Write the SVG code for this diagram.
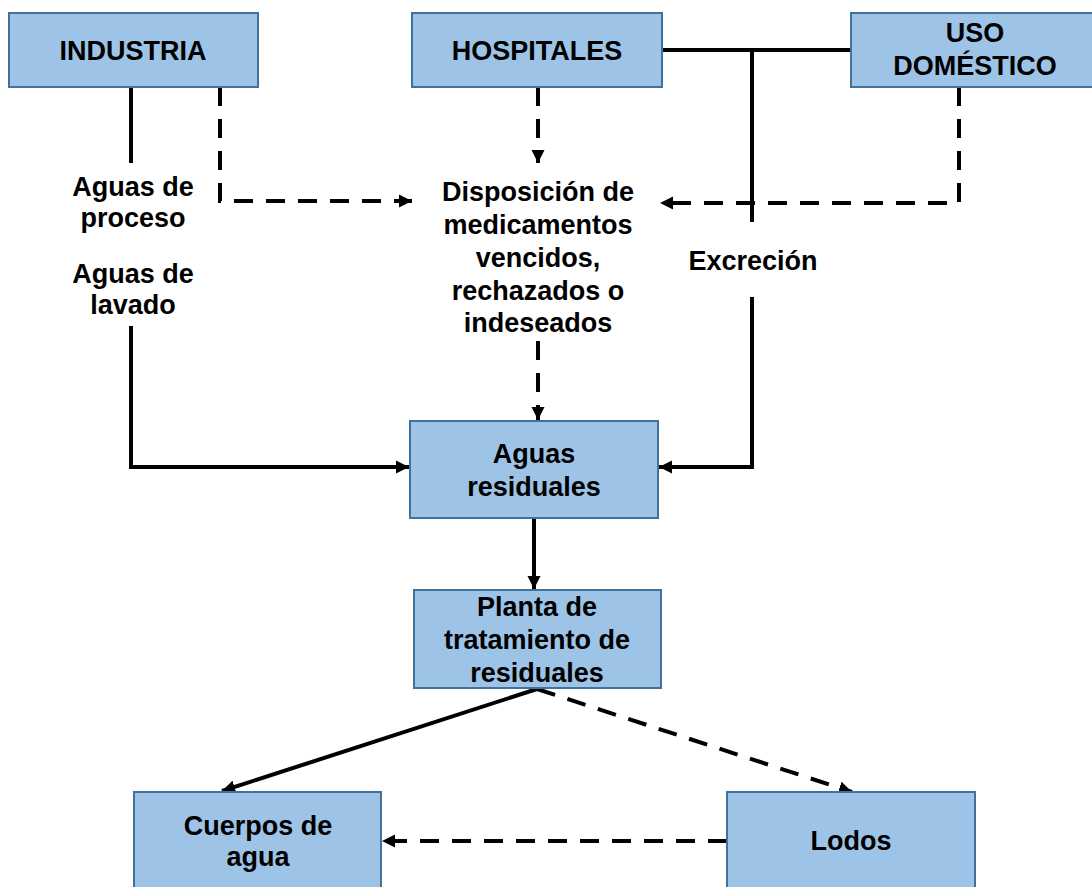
<svg xmlns="http://www.w3.org/2000/svg" width="1092" height="887" viewBox="0 0 1092 887">
<style>
.box{fill:#9DC3E6;stroke:#41719C;stroke-width:2}
.t{font-family:"Liberation Sans",Arial,sans-serif;font-weight:bold;font-size:27px;fill:#000;text-anchor:middle}
.s{fill:none;stroke:#000;stroke-width:4}
.d{fill:none;stroke:#000;stroke-width:4;stroke-dasharray:19 13}
</style>
<defs>
<marker id="ah" viewBox="0 0 10 10" refX="10" refY="5" markerWidth="3.3" markerHeight="3.3" orient="auto" markerUnits="strokeWidth">
<path d="M0,0 L10,5 L0,10 Z" fill="#000"/>
</marker>
</defs>
<rect width="1092" height="887" fill="#fff"/>
<g id="connectors">
<path class="s" d="M662,50 H851"/>
<path class="s" d="M752,50 V222"/>
<path class="s" d="M752,297 V467 H659" marker-end="url(#ah)"/>
<path class="s" d="M131,87 V163"/>
<path class="s" d="M131,326 V467 H409" marker-end="url(#ah)"/>
<path class="d" d="M220,87 V201 H412" marker-end="url(#ah)"/>
<path class="d" d="M538,87 V163" marker-end="url(#ah)"/>
<path class="d" d="M959,87 V203 H660" marker-end="url(#ah)"/>
<path class="d" d="M538,341 V420" marker-end="url(#ah)"/>
<path class="s" d="M534,518 V589" marker-end="url(#ah)"/>
<path class="s" d="M537,689 L222,791" marker-end="url(#ah)"/>
<path class="d" d="M537,689 L852,792" marker-end="url(#ah)"/>
<path class="d" d="M727,841 H382" marker-end="url(#ah)"/>
</g>
<g id="industria">
<rect class="box" x="9" y="13" width="249" height="74"/>
<text class="t" x="133" y="60">INDUSTRIA</text>
</g>
<g id="hospitales">
<rect class="box" x="412" y="13" width="250" height="74"/>
<text class="t" x="537" y="60">HOSPITALES</text>
</g>
<g id="uso-domestico">
<rect class="box" x="851" y="13" width="245" height="74"/>
<text class="t" x="975" y="42">USO</text>
<text class="t" x="975" y="75">DOMÉSTICO</text>
</g>
<g id="label-industria">
<text class="t" x="133" y="196">Aguas de</text>
<text class="t" x="133" y="227">proceso</text>
<text class="t" x="133" y="283">Aguas de</text>
<text class="t" x="133" y="314">lavado</text>
</g>
<g id="disposicion">
<text class="t" x="538" y="201">Disposición de</text>
<text class="t" x="538" y="234">medicamentos</text>
<text class="t" x="538" y="267">vencidos,</text>
<text class="t" x="538" y="300">rechazados o</text>
<text class="t" x="538" y="332">indeseados</text>
</g>
<g id="excrecion">
<text class="t" x="753" y="270">Excreción</text>
</g>
<g id="aguas-residuales">
<rect class="box" x="410" y="421" width="248" height="97"/>
<text class="t" x="534" y="463">Aguas</text>
<text class="t" x="534" y="496">residuales</text>
</g>
<g id="planta">
<rect class="box" x="414" y="590" width="247" height="98"/>
<text class="t" x="537" y="616">Planta de</text>
<text class="t" x="537" y="649">tratamiento de</text>
<text class="t" x="537" y="682">residuales</text>
</g>
<g id="cuerpos">
<rect class="box" x="134" y="792" width="247" height="100"/>
<text class="t" x="258" y="835">Cuerpos de</text>
<text class="t" x="258" y="866">agua</text>
</g>
<g id="lodos">
<rect class="box" x="727" y="792" width="248" height="100"/>
<text class="t" x="851" y="850">Lodos</text>
</g>
</svg>
